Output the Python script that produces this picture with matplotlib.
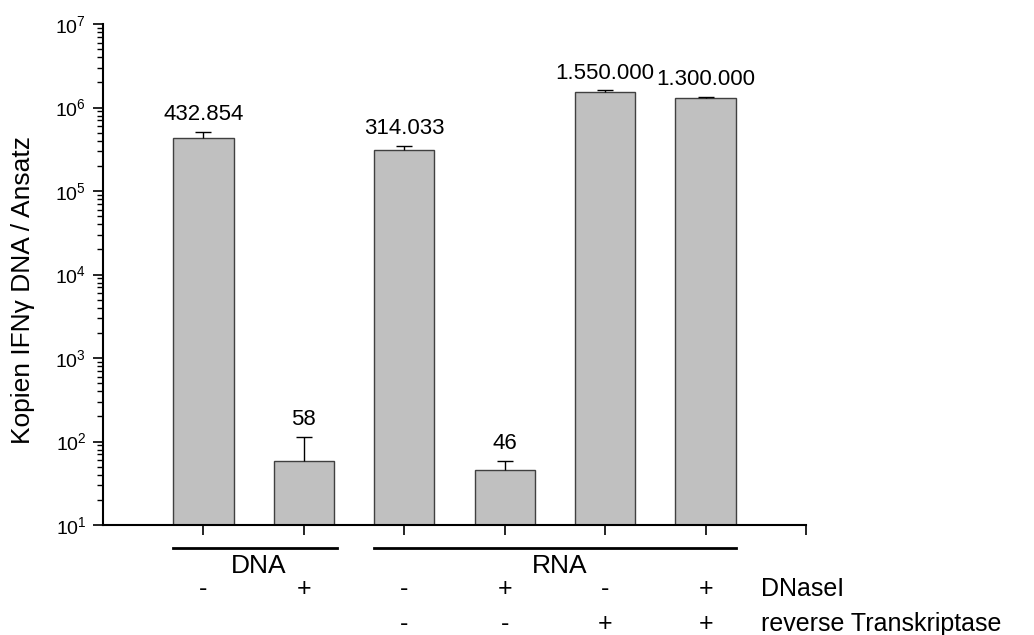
import matplotlib
matplotlib.use("Agg")
import matplotlib.pyplot as plt
import numpy as np

plt.rcParams['font.family'] = ['Liberation Sans', 'DejaVu Sans']
plt.rcParams['mathtext.fontset'] = 'custom'
plt.rcParams['mathtext.rm'] = 'Liberation Sans'
plt.rcParams['mathtext.it'] = 'Liberation Sans:italic'

# copies per reaction, one bar per condition
values = [432854, 58, 314033, 46, 1550000, 1300000]
errors = [70000, 55, 30000, 13, 50000, 20000]
labels = ["432.854", "58", "314.033", "46", "1.550.000", "1.300.000"]
dnase = ["-", "+", "-", "+", "-", "+"]
rtase = ["", "", "-", "-", "+", "+"]
# name, label centre, line start, line end
groups = [("DNA", 1.55, 0.7, 2.33), ("RNA", 4.55, 2.7, 6.3)]

x = np.arange(1, len(values) + 1)

fig = plt.figure(figsize=(10.34, 6.35), dpi=100)
ax = fig.add_axes([0.0996, 0.1732, 0.6799, 0.789])

ax.bar(x, values, width=0.6, color="#c0c0c0", edgecolor="#404040", linewidth=1.0, zorder=2)
eb = ax.errorbar(x, values, yerr=[np.zeros(len(errors)), errors], fmt="none",
                 ecolor="black", elinewidth=1.0, capsize=5.5, capthick=1.0, zorder=3)
# only the upper cap is drawn
eb[1][0].set_visible(False)

for xi, v, e, lab in zip(x, values, errors, labels):
    ax.annotate(lab, (xi, v + e), xytext=(0, 5), textcoords="offset points",
                ha="center", va="bottom", fontsize=16)

ax.set_yscale("log")
ax.set_ylim(10, 1e7)
ax.set_xlim(0, 7)
ax.set_xticks(list(x) + [7])
ax.set_xticklabels([])
ax.set_yticks([10 ** k for k in range(1, 8)])
ax.set_yticklabels([r"$10^{%d}$" % k for k in range(1, 8)])
ax.yaxis.set_minor_locator(matplotlib.ticker.LogLocator(base=10, subs=np.arange(2, 10)))
ax.yaxis.set_minor_formatter(matplotlib.ticker.NullFormatter())

ax.tick_params(axis="y", which="major", direction="out", length=7, width=1.2, labelsize=14, pad=5)
ax.tick_params(axis="y", which="minor", direction="out", length=4, width=1.0)
ax.tick_params(axis="x", which="major", direction="out", length=7, width=1.2)
for side in ["top", "right"]:
    ax.spines[side].set_visible(False)
for side in ["left", "bottom"]:
    ax.spines[side].set_linewidth(1.5)

ax.set_ylabel("Kopien IFNγ DNA / Ansatz", fontsize=19)
ax.yaxis.label.set_va("center")
ax.yaxis.set_label_coords(-0.114, 0.47)

# group brackets and condition rows below the axis
trans = ax.get_xaxis_transform()
for name, xc, x0, x1 in groups:
    ax.plot([x0, x1], [-0.045, -0.045], color="black", lw=2, transform=trans, clip_on=False)
    ax.text(xc, -0.058, name, transform=trans, ha="center", va="top", fontsize=19)

for xi, d, r in zip(x, dnase, rtase):
    ax.text(xi, -0.128, d, transform=trans, ha="center", va="center", fontsize=18)
    if r:
        ax.text(xi, -0.197, r, transform=trans, ha="center", va="center", fontsize=18)

ax.text(6.55, -0.128, "DNaseI", transform=trans, ha="left", va="center", fontsize=18)
ax.text(6.55, -0.197, "reverse Transkriptase", transform=trans, ha="left", va="center", fontsize=18)

fig.savefig("out.png", dpi=100)
